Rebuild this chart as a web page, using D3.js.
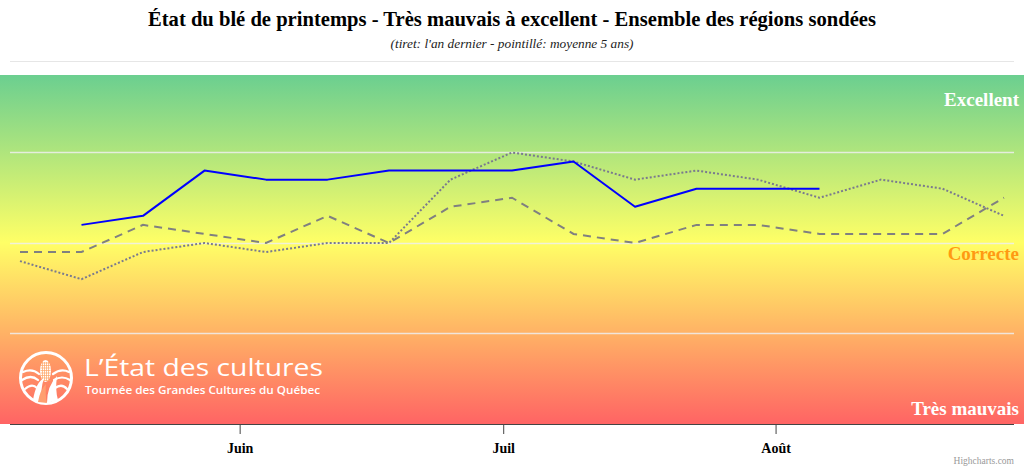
<!DOCTYPE html>
<html><head><meta charset="utf-8">
<script src="https://cdn.jsdelivr.net/npm/d3@7"></script>
<style>body{margin:0;background:#fff;overflow:hidden}svg{display:block}</style>
</head><body><svg id="c" width="1024" height="468"></svg>
<script>
// ---- data ----
const dates = ["2023-05-07","2023-05-14","2023-05-21","2023-05-28","2023-06-04","2023-06-11","2023-06-18","2023-06-25","2023-07-02","2023-07-09","2023-07-16","2023-07-23","2023-07-30","2023-08-06","2023-08-13","2023-08-20","2023-08-27"];
const currentYear = [null, 2.2, 2.3, 2.8, 2.7, 2.7, 2.8, 2.8, 2.8, 2.9, 2.4, 2.6, 2.6, 2.6, null, null, null];
const lastYear    = [1.9, 1.9, 2.2, 2.1, 2.0, 2.3, 2.0, 2.4, 2.5, 2.1, 2.0, 2.2, 2.2, 2.1, 2.1, 2.1, 2.5];
const fiveYearAvg = [1.8, 1.6, 1.9, 2.0, 1.9, 2.0, 2.0, 2.7, 3.0, 2.9, 2.7, 2.8, 2.7, 2.5, 2.7, 2.6, 2.3];
const monthTicks  = ["2023-06-01","2023-07-01","2023-08-01"];
const monthLabels = ["Juin","Juil","Août"];
const yTicks = [1, 2, 3];
const bandLabels = ["Excellent", "Correcte", "Très mauvais"];
const titleText = "État du blé de printemps - Très mauvais à excellent - Ensemble des régions sondées";
const subtitleText = "(tiret: l'an dernier - pointillé: moyenne 5 ans)";

// ---- layout ----
const W = 1024, H = 468;
const plot = {left: 10, right: 1014, top: 75, bottom: 424};
const svg = d3.select("#c");
const parse = d3.utcParse("%Y-%m-%d");
const x = d3.scaleUtc().domain([parse(dates[0]), parse(dates[dates.length-1])]).range([20, 1004]);
const y = d3.scaleLinear().domain([0, 3.856]).range([plot.bottom, plot.top]);
const serif = "'Liberation Serif','Times New Roman',serif";

// gradient background
const defs = svg.append("defs");
const g = defs.append("linearGradient").attr("id","bg").attr("x1",0).attr("y1",0).attr("x2",0).attr("y2",1);
[[0,"#6bcf90"],[0.48,"#ffff66"],[1,"#ff6464"]].forEach(s=>g.append("stop").attr("offset",s[0]).attr("stop-color",s[1]));
svg.append("rect").attr("x",0).attr("y",plot.top).attr("width",W).attr("height",plot.bottom-plot.top).attr("fill","url(#bg)");

// title
svg.append("text").attr("x",W/2).attr("y",26).attr("text-anchor","middle")
  .attr("font-family",serif).attr("font-weight","bold").attr("font-size",21.5).attr("fill","#000")
  .attr("textLength",728).attr("lengthAdjust","spacingAndGlyphs").text(titleText);
svg.append("text").attr("x",W/2).attr("y",48).attr("text-anchor","middle")
  .attr("font-family",serif).attr("font-style","italic").attr("font-size",13).attr("fill","#222")
  .attr("textLength",243).attr("lengthAdjust","spacingAndGlyphs").text(subtitleText);
svg.append("line").attr("x1",plot.left).attr("x2",plot.right).attr("y1",61.5).attr("y2",61.5).attr("stroke","#e6e6e6").attr("stroke-width",1);

// gridlines
svg.append("g").selectAll("line").data(yTicks).join("line")
  .attr("x1",plot.left).attr("x2",plot.right)
  .attr("y1",d=>Math.round(y(d))+0.5).attr("y2",d=>Math.round(y(d))+0.5)
  .attr("stroke","#eeeeee").attr("stroke-opacity",0.85).attr("stroke-width",1.5);

// logo
const logo = svg.append("g");
logo.append("circle").attr("cx",46).attr("cy",378).attr("r",25.5).attr("fill","none").attr("stroke","#fff").attr("stroke-width",3);
const lg = logo.append("g").attr("fill","none").attr("stroke","#fff").attr("stroke-width",2.2).attr("stroke-linecap","round");
lg.append("path").attr("d","M23,372 Q32,368 39,374");
lg.append("path").attr("d","M22,380 Q31,374 38,380");
lg.append("path").attr("d","M25,389 Q32,383 37,388");
lg.append("path").attr("d","M53,374 Q61,368 69,372");
lg.append("path").attr("d","M54,380 Q62,375 70,380");
lg.append("path").attr("d","M55,388 Q62,383 67,389");
logo.append("ellipse").attr("cx",45.5).attr("cy",371).attr("rx",5.5).attr("ry",11).attr("fill","#fff");
const cobGrid = logo.append("g").attr("stroke","#ffa566").attr("stroke-width",0.7);
[-3,-1,1,3].forEach(d=>cobGrid.append("line").attr("x1",45.5+d).attr("x2",45.5+d).attr("y1",362).attr("y2",381));
d3.range(363,382,2.5).forEach(v=>cobGrid.append("line").attr("x1",40.5).attr("x2",50.5).attr("y1",v).attr("y2",v));
logo.append("path").attr("d","M33,400 Q36,382 44,378 Q40,390 42,402 Z").attr("fill","#fff");
logo.append("path").attr("d","M47,403 Q47,386 57,376 Q55,390 58,400 Z").attr("fill","#fff");
logo.append("path").attr("d","M38,402 Q40,390 46,384 Q45,395 47,403 Z").attr("fill","#ff9f70");
logo.append("text").attr("x",84).attr("y",376).attr("font-family","'Open Sans',sans-serif").attr("font-weight",500)
  .attr("font-size",23.5).attr("fill","#fff").attr("textLength",239).attr("lengthAdjust","spacingAndGlyphs").text("L’État des cultures");
logo.append("text").attr("x",85).attr("y",394).attr("font-family","'Open Sans',sans-serif").attr("font-weight",600)
  .attr("font-size",10).attr("fill","#fff").attr("textLength",235).attr("lengthAdjust","spacingAndGlyphs").text("Tournée des Grandes Cultures du Québec");

// series
const pts = vals => vals.map((v,i)=>({d:parse(dates[i]), v}));
const line = d3.line().defined(p=>p.v!=null).x(p=>x(p.d)).y(p=>y(p.v));
svg.append("path").datum(pts(fiveYearAvg)).attr("d",line).attr("fill","none")
  .attr("stroke","#7a7a8e").attr("stroke-width",2).attr("stroke-dasharray","2,2");
svg.append("path").datum(pts(lastYear)).attr("d",line).attr("fill","none")
  .attr("stroke","#808080").attr("stroke-width",2).attr("stroke-dasharray","8,6");
svg.append("path").datum(pts(currentYear)).attr("d",line).attr("fill","none")
  .attr("stroke","#0000ff").attr("stroke-width",2).attr("stroke-linejoin","round");

// band labels
const bl = svg.append("g").attr("font-family",serif).attr("font-weight","bold").attr("font-size",19).attr("text-anchor","end");
bl.append("text").attr("x",1019).attr("y",plot.top+31).attr("fill","#fff").text(bandLabels[0]);
bl.append("text").attr("x",1019).attr("y",y(2)+17).attr("fill","#ff9a12").text(bandLabels[1]);
bl.append("text").attr("x",1019).attr("y",plot.bottom-9).attr("fill","#fff").text(bandLabels[2]);

// x axis
const xAxis = d3.axisBottom(x).tickValues(monthTicks.map(parse)).tickFormat((d,i)=>monthLabels[i]).tickSizeOuter(0).tickSize(10).tickPadding(9);
const ax = svg.append("g").attr("transform",`translate(0,${plot.bottom})`).call(xAxis);
ax.select(".domain").remove();
ax.append("line").attr("x1",plot.left).attr("x2",plot.right).attr("y1",0.5).attr("y2",0.5).attr("stroke","#444").attr("stroke-width",1.2);
ax.selectAll(".tick line").attr("stroke","#444");
ax.selectAll(".tick text").attr("font-family",serif).attr("font-weight","bold").attr("font-size",14).attr("fill","#000");

// credits
svg.append("text").attr("x",1014).attr("y",464).attr("text-anchor","end").attr("font-family",serif)
  .attr("font-size",9.5).attr("fill","#999").text("Highcharts.com");
</script></body></html>
